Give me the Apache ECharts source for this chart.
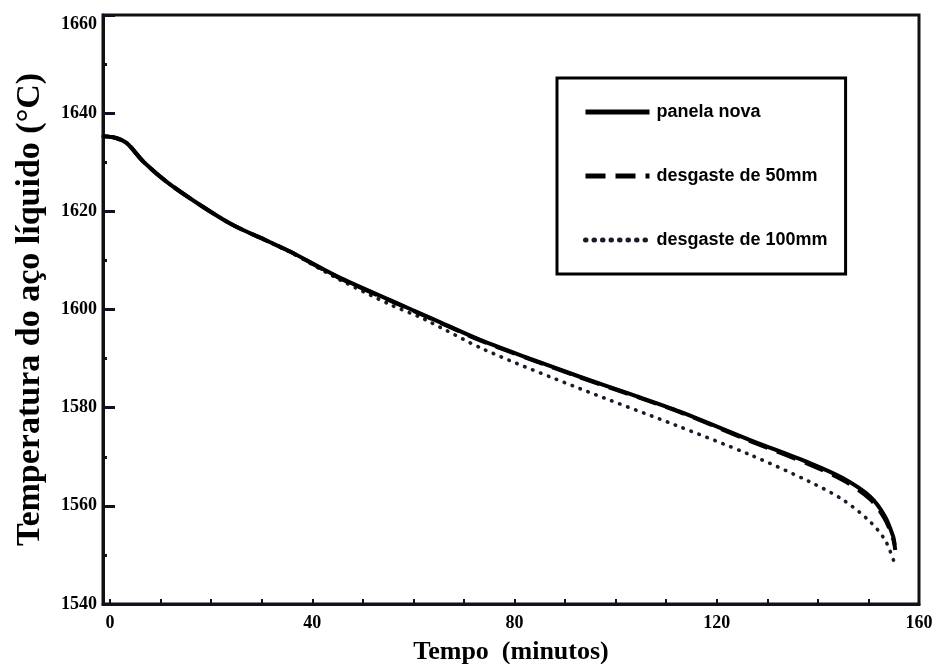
<!DOCTYPE html>
<html>
<head>
<meta charset="utf-8">
<script src="https://cdn.jsdelivr.net/npm/echarts@6/dist/echarts.min.js"></script>
<style>
  html, body { margin: 0; padding: 0; background: #ffffff; }
  #chart { width: 936px; height: 664px; }
</style>
</head>
<body>
<div id="chart"></div>
<script>
// Liquid steel temperature in the ladle over time, for three refractory wear states
const seriesNames = ['panela nova', 'desgaste de 50mm', 'desgaste de 100mm'];

// panela nova (new ladle)
const timeNova = [-1.4, 1.0, 3.3, 6.6, 11.2, 17.8, 24.3, 31.0, 35.6, 45.0, 55.4, 64.0, 73.2, 83.0, 92.9, 102.8, 112.7, 126.6, 138.4, 145.0, 150.3, 153.3, 154.9, 155.2];
const tempNova = [1635.3, 1635.0, 1633.9, 1630.1, 1626.0, 1621.3, 1617.2, 1614.0, 1611.8, 1606.7, 1601.9, 1598.0, 1593.8, 1590.0, 1586.3, 1582.8, 1579.2, 1573.4, 1568.7, 1565.6, 1561.9, 1557.8, 1553.7, 1552.0];

// 50 mm wear
const time50 = [-1.4, 1.0, 3.3, 6.6, 11.2, 17.8, 24.3, 31.0, 35.6, 45.0, 55.4, 64.0, 73.2, 83.0, 92.9, 102.8, 112.7, 126.6, 138.4, 145.0, 150.3, 153.3, 154.9, 155.3];
const temp50 = [1635.3, 1635.0, 1633.9, 1630.1, 1626.0, 1621.3, 1617.2, 1614.0, 1611.8, 1606.6, 1601.8, 1597.9, 1593.7, 1589.9, 1586.2, 1582.7, 1579.1, 1573.2, 1568.4, 1565.2, 1561.4, 1557.2, 1553.2, 1551.0];

// 100 mm wear
const time100 = [-1.4, 1.0, 3.3, 6.6, 11.2, 17.8, 24.3, 31.0, 35.6, 45.0, 55.4, 62.0, 74.1, 92.9, 111.7, 126.6, 138.4, 145.0, 150.3, 153.3, 155.2, 155.4];
const temp100 = [1635.3, 1635.0, 1633.9, 1630.1, 1626.0, 1621.3, 1617.2, 1614.0, 1611.7, 1606.3, 1601.0, 1598.1, 1591.8, 1583.9, 1576.5, 1570.4, 1564.9, 1561.2, 1556.8, 1553.0, 1548.3, 1547.7];

// axis ticks
const xLabelValues = [0, 40, 80, 120, 160];
const xTickValues = [0, 10, 20, 30, 40, 50, 60, 70, 80, 90, 100, 110, 120, 130, 140, 150, 160];

const pair = (xs, ys) => xs.map((x, i) => [x, ys[i]]);

const serif = '"Liberation Serif", "Times New Roman", serif';
const sans = '"Liberation Sans", Arial, sans-serif';
const tickFont = { fontFamily: serif, fontWeight: 'bold', fontSize: 18, color: '#000000' };

const chart = echarts.init(document.getElementById('chart'));
chart.setOption({
  animation: false,
  backgroundColor: '#ffffff',
  color: ['#000000', '#000000', '#1a1a2a'],
  grid: {
    left: 103, right: 17, top: 15, bottom: 60,
    outerBoundsMode: 'none',
    show: true, borderColor: '#111111', borderWidth: 3, backgroundColor: 'transparent'
  },
  legend: {
    orient: 'vertical',
    left: 557, top: 78,
    padding: [24, 18, 24, 26],
    itemWidth: 64, itemHeight: 14, itemGap: 44,
    backgroundColor: '#ffffff',
    borderColor: '#000000', borderWidth: 3, borderRadius: 0,
    itemStyle: { opacity: 0 },
    lineStyle: { width: 5 },
    textStyle: { fontFamily: sans, fontWeight: 'bold', fontSize: 18, color: '#000000', lineHeight: 20, padding: [0, 0, 0, 2] },
    data: seriesNames
  },
  xAxis: {
    type: 'value',
    min: -1.4, max: 160,
    name: 'Tempo  (minutos)',
    nameLocation: 'middle', nameGap: 35,
    nameTextStyle: { fontFamily: serif, fontWeight: 'bold', fontSize: 26, color: '#000000' },
    axisLine: { show: true, onZero: false, lineStyle: { color: '#111122', width: 3 } },
    axisTick: { show: true, inside: true, length: 5, customValues: xTickValues, lineStyle: { color: '#111111', width: 2 } },
    axisLabel: Object.assign({ customValues: xLabelValues, margin: 10 }, tickFont),
    splitLine: { show: false }
  },
  yAxis: {
    type: 'value',
    min: 1540, max: 1660, interval: 20,
    name: 'Temperatura do aço líquido (°C)',
    nameLocation: 'middle', nameGap: 56, nameRotate: 90,
    nameTextStyle: { fontFamily: serif, fontWeight: 'bold', fontSize: 34, color: '#000000' },
    axisLine: { show: true, onZero: false, lineStyle: { color: '#111111', width: 3 } },
    axisTick: { show: true, inside: true, length: 12, lineStyle: { color: '#111122', width: 3 } },
    minorTick: { show: true, splitNumber: 2, length: 4, lineStyle: { color: '#111111', width: 3 } },
    axisLabel: Object.assign({
      margin: 6,
      formatter: (v) => (v === 1660 ? '{top|' + v + '}' : String(v)),
      rich: { top: Object.assign({ padding: [18, 0, 0, 0] }, tickFont) }
    }, tickFont),
    splitLine: { show: false }
  },
  series: [
    {
      name: seriesNames[0], type: 'line', data: pair(timeNova, tempNova),
      symbol: 'none', smooth: 0.3, z: 4,
      lineStyle: { color: '#000000', width: 4, type: 'solid' }
    },
    {
      name: seriesNames[1], type: 'line', data: pair(time50, temp50),
      symbol: 'none', smooth: 0.3, z: 3,
      lineStyle: { color: '#000000', width: 4, type: [20, 10] }
    },
    {
      name: seriesNames[2], type: 'line', data: pair(time100, temp100),
      symbol: 'none', smooth: 0.3, z: 2,
      lineStyle: { color: '#1a1a2a', width: 3.6, type: [0.5, 8], cap: 'round' }
    }
  ]
});
</script>
</body>
</html>
